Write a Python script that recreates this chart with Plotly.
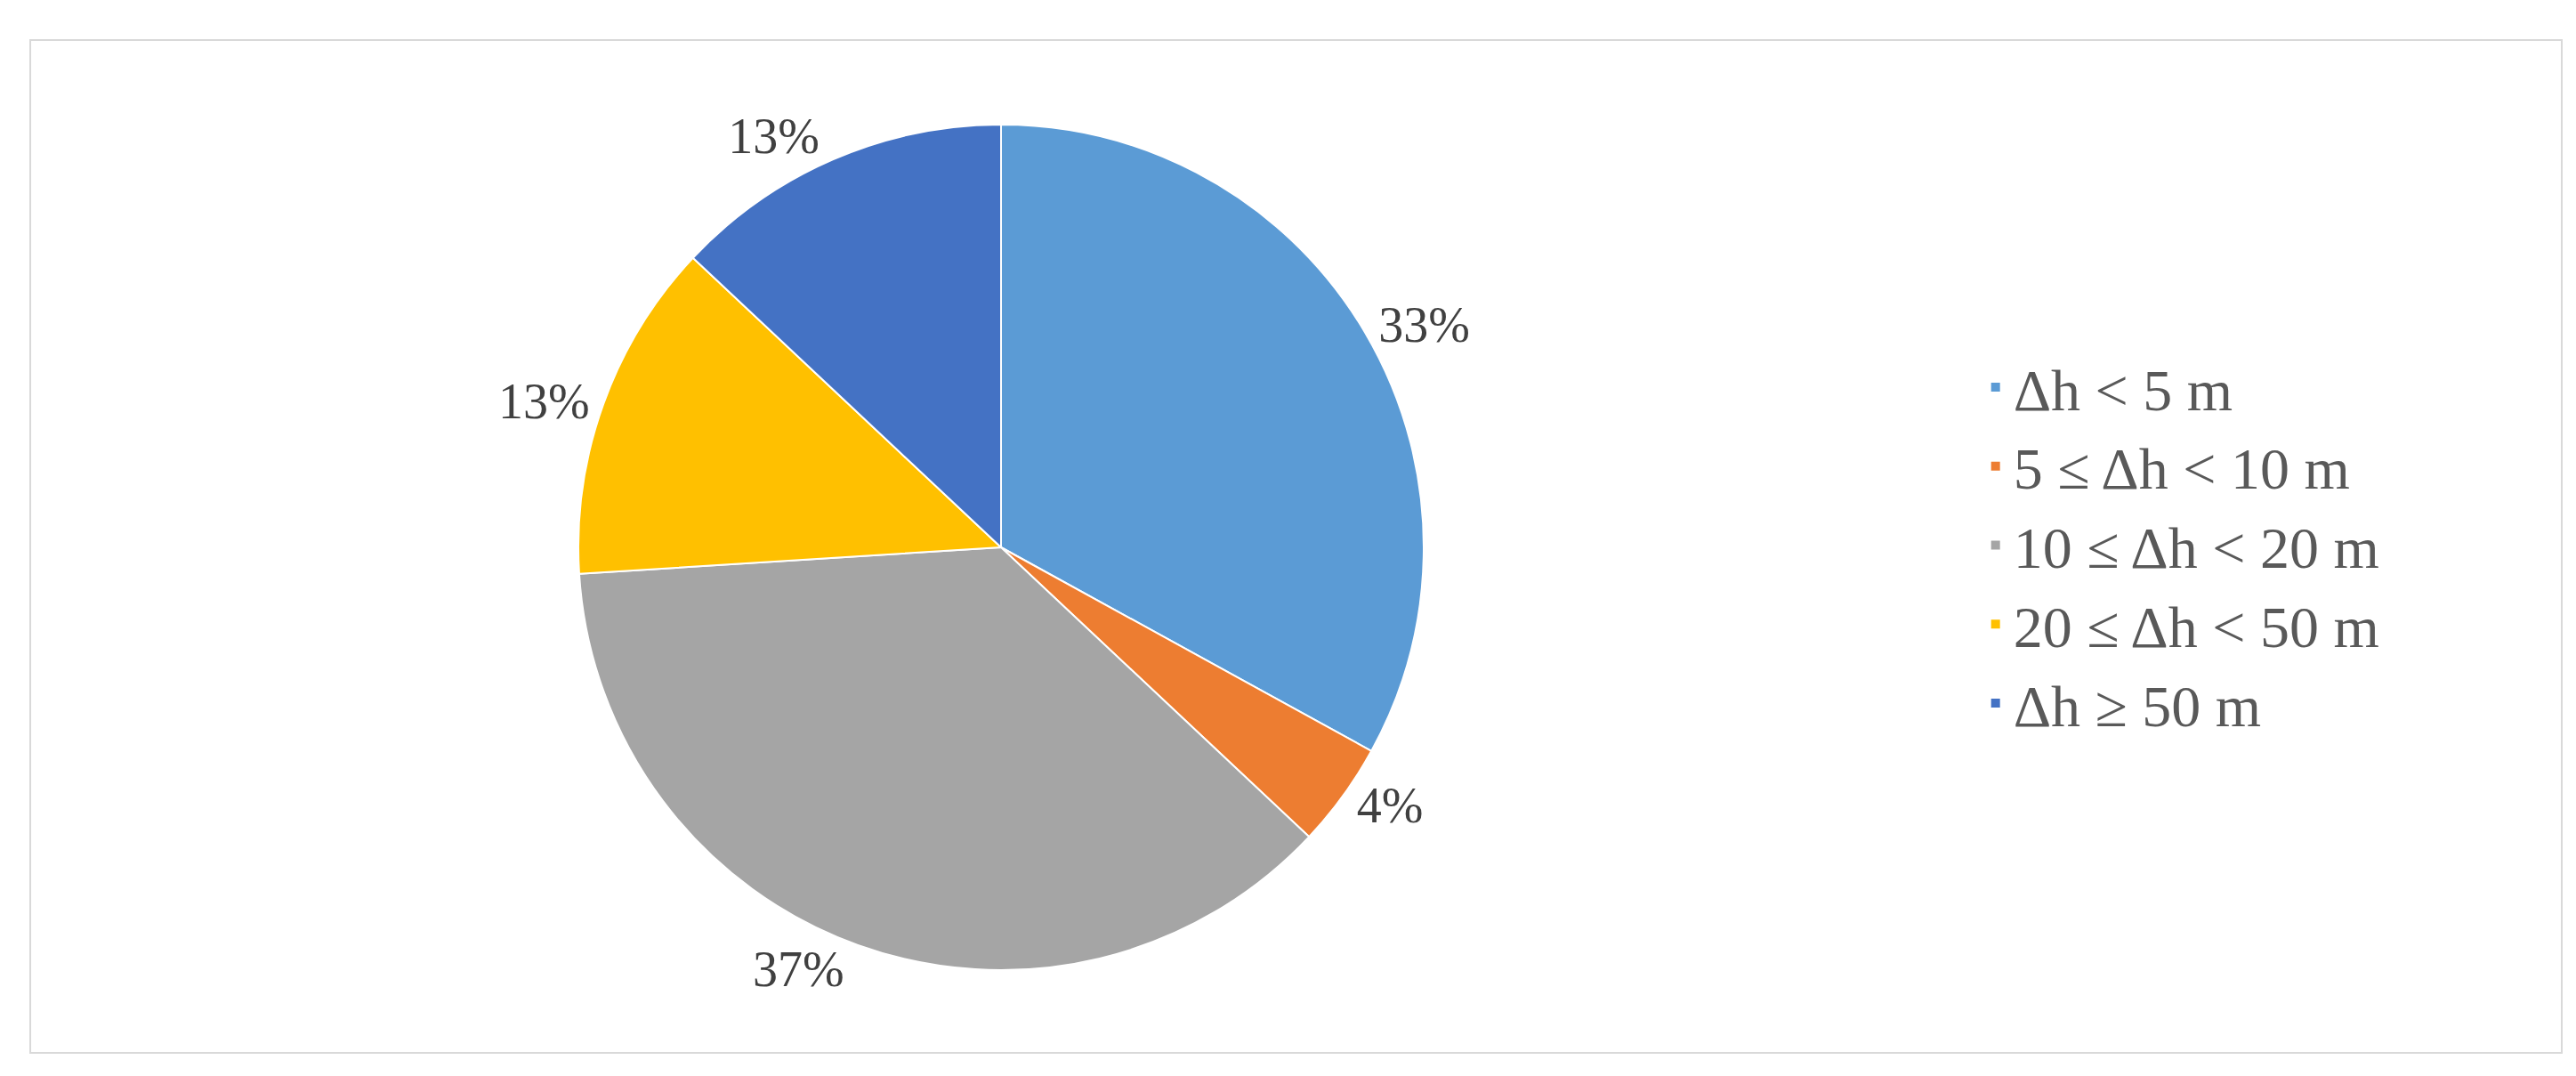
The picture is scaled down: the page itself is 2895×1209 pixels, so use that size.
import plotly.graph_objects as go

labels = ["Δh < 5 m", "5 ≤ Δh < 10 m", "10 ≤ Δh < 20 m", "20 ≤ Δh < 50 m", "Δh ≥ 50 m"]
values = [33, 4, 37, 13, 13]
colors = ["#5B9BD5", "#ED7D31", "#A5A5A5", "#FFC000", "#4472C4"]

W, H = 2895, 1209
cx, cy, r = 1117, 607, 475

fig = go.Figure(go.Pie(
    labels=labels, values=values, sort=False, direction="clockwise", rotation=0,
    marker=dict(colors=colors, line=dict(color="white", width=2)),
    textinfo="percent", texttemplate="%{percent:.0%}", textposition="outside",
    outsidetextfont=dict(family="Liberation Serif", size=56, color="#404040"),
    domain=dict(x=[(cx - r) / W, (cx + r) / W], y=[(H - cy - r) / H, (H - cy + r) / H]),
    showlegend=True,
))
fig.update_layout(
    width=W, height=H, margin=dict(l=0, r=0, t=0, b=0),
    paper_bgcolor="white",
    legend=dict(x=0.765, y=0.5, xanchor="left", yanchor="middle",
                font=dict(family="Liberation Serif", size=66, color="#595959"),
                tracegroupgap=0, itemwidth=30),
    shapes=[dict(type="rect", xref="paper", yref="paper",
                 x0=26 / W, x1=2871 / W, y0=1 - 1175 / H, y1=1 - 37 / H,
                 line=dict(color="#D9D9D9", width=2))],
)
fig.write_html("out.html")
